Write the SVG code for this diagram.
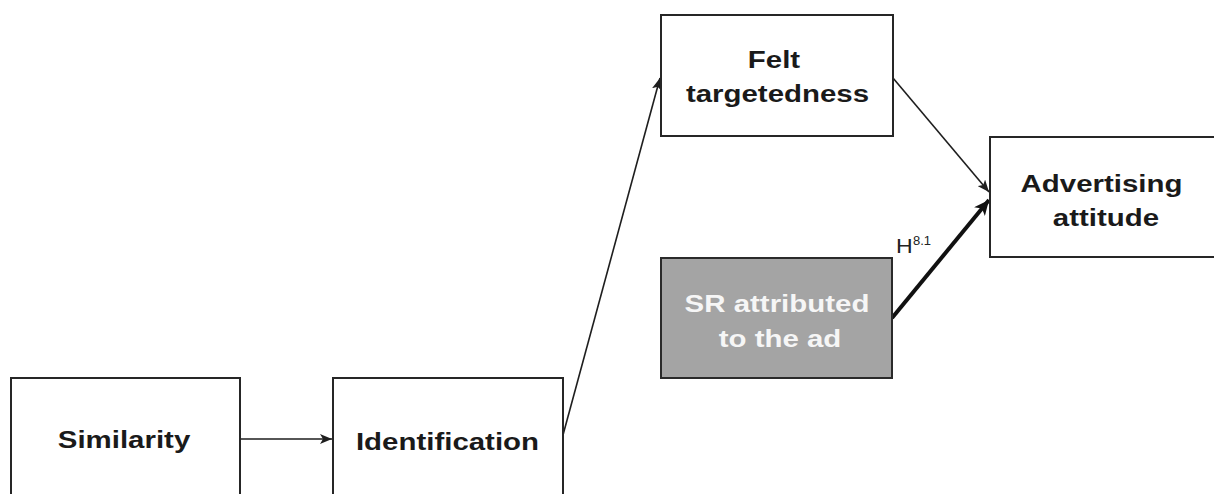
<svg xmlns="http://www.w3.org/2000/svg" width="1214" height="494" viewBox="0 0 1214 494">
  <style>
    .box { fill: #ffffff; stroke: #262626; stroke-width: 2; }
    .shaded { fill: #a4a4a4; stroke: #2a2a2a; stroke-width: 2; }
    .label { font-family: "Liberation Sans", Arial, sans-serif; font-weight: bold; font-size: 23px; fill: #1a1a1a; text-anchor: middle; }
    .light { fill: #f6f6f6; }
    .link { fill: none; stroke: #1e1e1e; stroke-width: 1.6; }
    .link-bold { fill: none; stroke: #111111; stroke-width: 4; }
    .hyp { font-family: "Liberation Sans", Arial, sans-serif; fill: #222222; }
  </style>
  <defs>
    <marker id="arrow" markerUnits="userSpaceOnUse" markerWidth="13" markerHeight="10" refX="12" refY="5" orient="auto">
      <path d="M0,0 L12,5 L0,10 L3,5 Z" fill="#1e1e1e"/>
    </marker>
    <marker id="arrow-bold" markerUnits="userSpaceOnUse" markerWidth="16" markerHeight="14" refX="15" refY="7" orient="auto">
      <path d="M0,0 L15,7 L0,14 L4,7 Z" fill="#111111"/>
    </marker>
  </defs>

  <rect width="1214" height="494" fill="#ffffff"/>

  <!-- connectors -->
  <g id="connectors">
    <line class="link" x1="241" y1="439" x2="332" y2="439" marker-end="url(#arrow)"/>
    <line class="link" x1="563" y1="435" x2="660" y2="78" marker-end="url(#arrow)"/>
    <line class="link" x1="893" y1="78" x2="989" y2="192" marker-end="url(#arrow)"/>
    <line class="link-bold" x1="892" y1="318" x2="989" y2="200" marker-end="url(#arrow-bold)"/>
    <text class="hyp" x="896" y="253" font-size="21" transform="translate(896 0) scale(1.1 1) translate(-896 0)">H</text>
    <text class="hyp" x="913" y="245" font-size="13">8.1</text>
  </g>

  <!-- nodes (labels are set in a wide face: bold sans stretched horizontally) -->
  <g id="similarity">
    <rect class="box" x="11" y="378" width="229" height="130"/>
    <text class="label" transform="translate(124 448) scale(1.28 1)">Similarity</text>
  </g>

  <g id="identification">
    <rect class="box" x="333" y="378" width="230" height="130"/>
    <text class="label" transform="translate(447.5 450) scale(1.28 1)">Identification</text>
  </g>

  <g id="felt-targetedness">
    <rect class="box" x="661" y="15" width="232" height="121"/>
    <text class="label" transform="translate(774 68) scale(1.28 1)">Felt</text>
    <text class="label" transform="translate(777.5 102) scale(1.28 1)">targetedness</text>
  </g>

  <g id="sr-attributed">
    <rect class="shaded" x="661" y="258" width="231" height="120"/>
    <text class="label light" transform="translate(777 312) scale(1.28 1)">SR attributed</text>
    <text class="label light" transform="translate(780 347) scale(1.28 1)">to the ad</text>
  </g>

  <g id="advertising-attitude">
    <rect class="box" x="990" y="137" width="240" height="120"/>
    <text class="label" transform="translate(1101.5 192) scale(1.28 1)">Advertising</text>
    <text class="label" transform="translate(1106 226) scale(1.28 1)">attitude</text>
  </g>
</svg>
